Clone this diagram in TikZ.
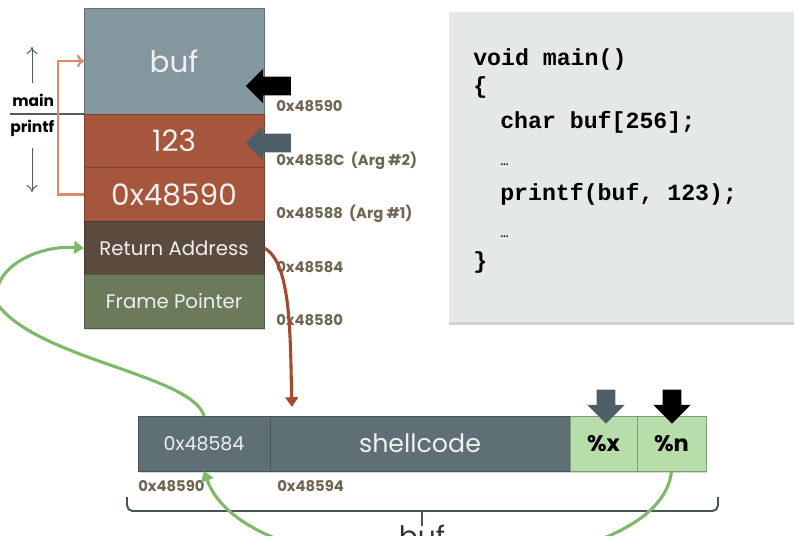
\documentclass[tikz,border=0pt]{standalone}
\usepackage{fontspec}
\setmainfont{Poppins}
\newfontfamily\codefont{Liberation Mono}
\usetikzlibrary{shapes.arrows}
\usetikzlibrary{arrows.meta}
\usetikzlibrary{shadows}
\usetikzlibrary{calc}
\definecolor{bufgray}{RGB}{132,151,159}
\definecolor{argred}{RGB}{166,86,60}
\definecolor{retbrown}{RGB}{90,75,62}
\definecolor{fpgreen}{RGB}{107,122,90}
\definecolor{slatebox}{RGB}{95,111,118}
\definecolor{fmtgreen}{RGB}{183,221,170}
\definecolor{slatearrow}{RGB}{78,95,103}
\definecolor{hijack}{RGB}{163,74,47}
\definecolor{overwrite}{RGB}{125,185,105}
\definecolor{framelink}{RGB}{217,139,112}
\definecolor{addrtext}{RGB}{110,102,82}
\definecolor{codebg}{RGB}{229,232,233}
\definecolor{bracecol}{RGB}{70,85,92}
\def\boxtext{\fontsize{14}{17}\selectfont}
\tikzset{cell/.style={draw=#1!75!black, fill=#1, line width=0.6pt, inner sep=0pt, outer sep=0pt,
    text=white!94!black, drop shadow={opacity=0.3, shadow xshift=1pt, shadow yshift=-1.2pt}}}
\tikzset{stackcell/.style={cell=#1, minimum width=4.5cm, minimum height=1.33cm}}
\tikzset{fmtcell/.style={cell=fmtgreen, draw=fmtgreen!70!black, text=black,
    minimum height=1.375cm, font=\bfseries\fontsize{16}{18}\selectfont}}
\tikzset{addr/.style={anchor=base west, inner sep=0pt, text=addrtext,
    font=\bfseries\fontsize{10.5}{12}\selectfont}}
\tikzset{codeline/.style={anchor=base west, inner sep=0pt,
    font=\codefont\bfseries\fontsize{16.5}{18}\selectfont}}
\tikzset{blockarrow/.style={single arrow, fill=#1, inner sep=0.225cm, outer sep=0pt,
    minimum height=1.125cm, single arrow head extend=0.2cm}}
\tikzset{overwritelink/.style={draw=overwrite, line width=2.2pt, -{Triangle[length=7pt,width=9pt]}}}

\begin{document}
\begin{tikzpicture}[x=0.025cm, y=-0.025cm]

\useasboundingbox (0,0) rectangle (794,535);

%% code listing
\node [fill=codebg, minimum width=8.75cm, minimum height=7.75cm, inner sep=0pt,
    drop shadow={opacity=0.35, shadow xshift=0pt, shadow yshift=-2pt}] (code) at (624,167) {};
\node [codeline] (cl1) at (473,65) {void main()};
\node [codeline] (cl2) at (473,93) {\{};
\node [codeline] (cl3) at (500,128) {char buf[256];};
\node [codeline, font=\fontsize{10}{12}\selectfont] (cl4) at (500,165) {…};
\node [codeline] (cl5) at (500,200) {printf(buf, 123);};
\node [codeline, font=\fontsize{10}{12}\selectfont] (cl6) at (500,237) {…};
\node [codeline] (cl7) at (473,268) {\}};

%% stack
\node [stackcell=bufgray, minimum height=2.65cm, font=\fontsize{21}{24}\selectfont] (buf) at (174,61) {buf};
\node [stackcell=argred, font=\fontsize{21}{24}\selectfont] (arg2) at (174,141) {123};
\node [stackcell=argred, font=\fontsize{21}{24}\selectfont] (arg1) at (174,194.5) {0x48590};
\node [stackcell=retbrown, font=\boxtext] (ret) at (174,248) {Return Address};
\node [stackcell=fpgreen, font=\boxtext] (fp) at (174,301.5) {Frame Pointer};

\node [addr] (a90) at (276,111) {0x48590};
\node [addr] (a8c) at (276,165) {0x4858C \ (Arg \#2)};
\node [addr] (a88) at (276,218) {0x48588 \ (Arg \#1)};
\node [addr] (a84) at (276,272) {0x48584};
\node [addr] (a80) at (276,325) {0x48580};

\node [blockarrow=black, shape border rotate=180] (fmtptr) at (273,86) {};
\node [blockarrow=slatearrow, shape border rotate=180] (argptr) at (273,143) {};

%% frames
\node [anchor=base west, inner sep=0pt, font=\bfseries\fontsize{11}{13}\selectfont] (mainlbl) at (12,106) {main};
\node [anchor=base west, inner sep=0pt, font=\bfseries\fontsize{11}{13}\selectfont] (printflbl) at (10,132) {printf};
\coordinate (sep) at (10,114);
\draw [line width=0.8pt] (sep) -- (buf.south west);
\coordinate (upa) at (32,83);
\coordinate (upb) at (32,47);
\coordinate (dna) at (32,148);
\coordinate (dnb) at (32,192);
\draw [slatearrow, line width=0.7pt, -{To[length=5pt,width=8pt]}] (upa) -- (upb);
\draw [slatearrow, line width=0.7pt, -{To[length=5pt,width=8pt]}] (dna) -- (dnb);
\draw [framelink, line width=1.6pt, -{To[length=5pt,width=9pt]}] (arg1.west) -- ++(-26,0) |- (buf.west);

%% buffer contents
\node [cell=slatebox, minimum width=3.3cm, minimum height=1.375cm, font=\fontsize{13.5}{16}\selectfont] (ptr) at (204,443.5) {0x48584};
\node [cell=slatebox, minimum width=7.5cm, minimum height=1.375cm, font=\fontsize{18}{21}\selectfont] (shell) at (420,443.5) {shellcode};
\node [fmtcell, minimum width=1.675cm] (fx) at (603.5,443.5) {\%x};
\node [fmtcell, minimum width=1.725cm] (fn) at (671.5,443.5) {\%n};
\node [addr] (b90) at (138,491) {0x48590};
\node [addr] (b94) at (277,491) {0x48594};

\node [blockarrow=slatearrow, shape border rotate=270, minimum height=0.85cm,
    single arrow head extend=0.24cm] (xptr) at (606,402) {};
\node [blockarrow=black, shape border rotate=270, minimum height=0.85cm,
    single arrow head extend=0.24cm] (nptr) at (672,402) {};

%% brace under buffer
\coordinate (brl) at (127,497);
\coordinate (brr) at (718,497);
\coordinate (brm) at (422,511);
\draw [bracecol, line width=1.4pt, rounded corners=4pt] (brl) -- (127,511) -- (718,511) -- (brr);
\draw [bracecol, line width=1.4pt] (brm) -- ++(0,15);
\node [anchor=north, inner sep=0pt, text=black!80, font=\fontsize{20}{22}\selectfont] (buflbl) at (422,525) {buf};

%% links
\coordinate (hit) at (292,407);
\draw [hijack, line width=2.2pt, -{Triangle[length=7pt,width=9pt]}] (ret.east) .. controls (292,262) and (290,340) .. (hit);
\coordinate (loopl) at (-2,305);
\draw [overwritelink] (ptr.north) .. controls (192,375) and (40,360) .. (loopl) .. controls (-12,270) and (35,245) .. (ret.west);
\draw [overwritelink] (fn.south) .. controls (660,590) and (250,600) .. (ptr.south);

\end{tikzpicture}
\end{document}
